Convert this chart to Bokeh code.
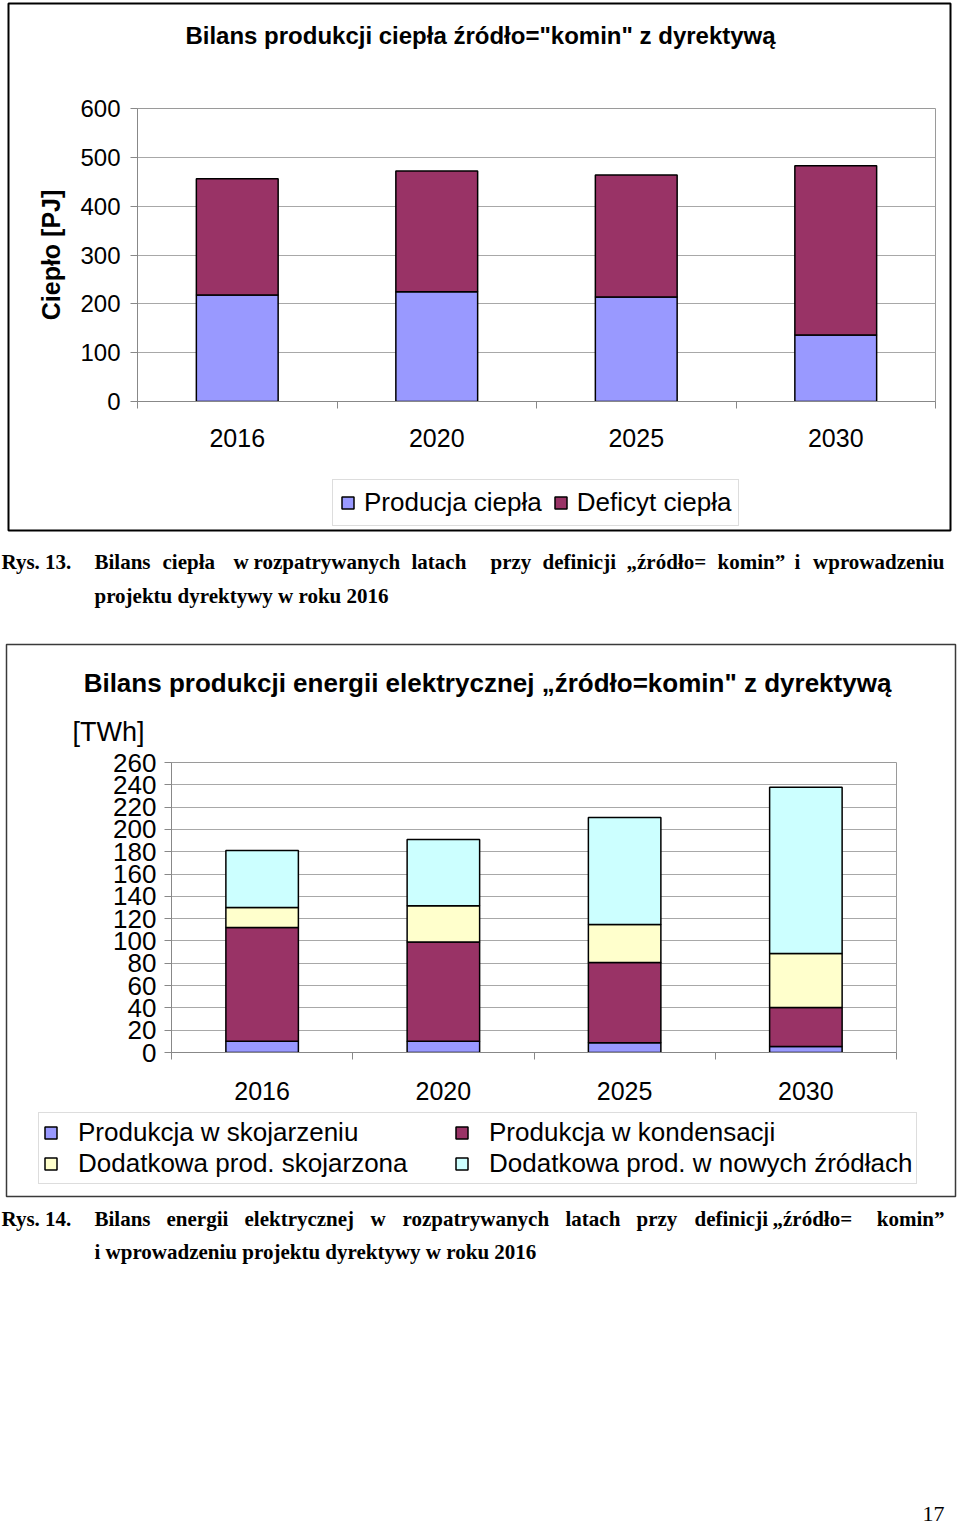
from bokeh.plotting import figure
from bokeh.models import Range1d, FixedTicker, Legend, LegendItem, ColumnDataSource
from bokeh.embed import file_html
from bokeh.resources import INLINE
from bokeh.core.properties import value

# ---------------- data ----------------
years = ["2016", "2020", "2025", "2030"]

heat_names = ["Producja ciepła", "Deficyt ciepła"]
heat_prod = [218, 225, 214, 136]
heat_deficit = [238, 247, 250, 347]
heat_ticks = [0, 100, 200, 300, 400, 500, 600]

el_names = ["Produkcja w skojarzeniu", "Produkcja w kondensacji",
            "Dodatkowa prod. skojarzona", "Dodatkowa prod. w nowych źródłach"]
el_cogen = [10, 10, 8.7, 5.4]
el_cond = [102, 89, 72, 35]
el_extra_cogen = [18, 32.5, 34, 48.4]
el_new = [51, 59.5, 96, 149]
el_ticks = [0, 20, 40, 60, 80, 100, 120, 140, 160, 180, 200, 220, 240, 260]

title1 = 'Bilans produkcji ciepła źródło="komin" z dyrektywą'
ylabel1 = "Ciepło [PJ]"
title2 = 'Bilans produkcji energii elektrycznej „źródło=komin" z dyrektywą'
unit2 = "[TWh]"

cap1_label = "Rys. 13."
cap1_words = ["Bilans", "ciepła", "w", "rozpatrywanych", "latach", "przy",
              "definicji", "„źródło=", "komin”", "i", "wprowadzeniu"]
cap1_line2 = "projektu dyrektywy w roku 2016"
cap2_label = "Rys. 14."
cap2_words = ["Bilans", "energii", "elektrycznej", "w", "rozpatrywanych", "latach",
              "przy", "definicji", "„źródło=", "komin”"]
cap2_line2 = "i wprowadzeniu projektu dyrektywy w roku 2016"
page_no = "17"

heat_colors = ["#9999FF", "#993366"]
el_colors = ["#9999FF", "#993366", "#FFFFCC", "#CCFFFF"]

# layout: positions of justified caption words (pixels)
cap1_x = [94, 162, 233, 253, 411, 490, 542, 626, 717, 794]
cap2_x = [94, 166, 244, 370, 402, 565, 636, 694, 772]

SANS = "Liberation Sans"
SERIF = "Liberation Serif"
AX = "#888888"
GRID = "#A8A8A8"

xs = [i + 0.5 for i in range(len(years))]


def abs_style(left, top):
    return {"position": "absolute", "left": f"{left}px", "top": f"{top}px"}


def bar_fig(left, top, w, h, borders, ymax, ticks, tick_font, x_font,
            tick_standoff, x_standoff):
    p = figure(width=w, height=h, x_range=Range1d(0, len(years)), y_range=Range1d(0, ymax),
               output_backend="svg", toolbar_location=None, title=None,
               min_border_left=borders[0], min_border_right=borders[1],
               min_border_top=borders[2], min_border_bottom=borders[3],
               styles=abs_style(left, top),
               background_fill_color="white", border_fill_color="white",
               outline_line_color="#9A9A9A", outline_line_width=1)
    p.xgrid.visible = False
    p.ygrid.ticker = FixedTicker(ticks=ticks)
    p.ygrid.grid_line_color = GRID
    p.ygrid.grid_line_width = 1

    ya = p.yaxis[0]
    ya.ticker = FixedTicker(ticks=ticks)
    ya.axis_line_color = AX
    ya.major_tick_line_color = AX
    ya.major_tick_out = 7
    ya.major_tick_in = 0
    ya.minor_tick_line_color = None
    ya.major_label_text_font = SANS
    ya.major_label_text_font_size = tick_font
    ya.major_label_text_color = "black"
    ya.major_label_standoff = tick_standoff

    xa = p.xaxis[0]
    xa.ticker = FixedTicker(ticks=xs, minor_ticks=list(range(len(years) + 1)))
    xa.major_label_overrides = dict(zip(xs, years))
    xa.axis_line_color = AX
    xa.major_tick_line_color = None
    xa.major_tick_out = 0
    xa.major_tick_in = 0
    xa.minor_tick_line_color = AX
    xa.minor_tick_out = 7
    xa.minor_tick_in = 0
    xa.major_label_text_font = SANS
    xa.major_label_text_font_size = x_font
    xa.major_label_text_color = "black"
    xa.major_label_standoff = x_standoff
    return p


def blank_fig(left, top, w, h):
    f = figure(width=w, height=h, x_range=Range1d(0, w), y_range=Range1d(h, 0),
               output_backend="svg", toolbar_location=None, title=None,
               x_axis_location=None, y_axis_location=None, min_border=0,
               styles=abs_style(left, top), background_fill_color=None,
               border_fill_color=None, outline_line_color=None)
    f.grid.visible = False
    return f


def legend_fig(left, top, w, h, names, colors, series, **kw):
    # legend panel placed under the chart; its swatches come from hidden copies of the series
    f = blank_fig(left, top, w, h)
    rs = [f.vbar(x=xs, top=s, width=0.4, fill_color=c, line_color="black",
                 line_width=1.5, visible=False)
          for c, s in zip(colors, series)]
    leg = Legend(items=[LegendItem(label=n, renderers=[r]) for n, r in zip(names, rs)],
                 location="top_left", margin=0, glyph_width=15, glyph_height=15,
                 label_text_font=SANS, label_text_font_size="26px", label_text_color="black",
                 border_line_color="#BBBBBB", border_line_width=1,
                 background_fill_color="white", background_fill_alpha=1,
                 inactive_fill_alpha=0, **kw)
    f.add_layout(leg)
    return f


# ---------------- chart 1 ----------------
p1 = bar_fig(10, 60, 938, 411, (127, 13, 48, 70), 600, heat_ticks, "24px", "25px", 10, 20)
src1 = ColumnDataSource(dict(x=xs, prod=heat_prod, deficit=heat_deficit))
p1.vbar_stack(["prod", "deficit"], x="x", width=0.41, source=src1,
              fill_color=heat_colors, line_color="black", line_width=1.5)
ya1 = p1.yaxis[0]
ya1.axis_label = ylabel1
ya1.axis_label_text_font = SANS
ya1.axis_label_text_font_size = "25px"
ya1.axis_label_text_font_style = "bold"
ya1.axis_label_text_color = "black"
ya1.axis_label_standoff = 12

l1 = legend_fig(332, 479, 440, 52, heat_names, heat_colors, [heat_prod, heat_deficit],
                orientation="horizontal", padding=7, spacing=11, label_standoff=9)

# ---------------- chart 2 ----------------
p2 = bar_fig(20, 732, 920, 390, (151, 44, 30, 70), 260, el_ticks, "26px", "25px", 8, 22)
src2 = ColumnDataSource(dict(x=xs, a=el_cogen, b=el_cond, c=el_extra_cogen, d=el_new))
p2.vbar_stack(["a", "b", "c", "d"], x="x", width=0.40, source=src2,
              fill_color=el_colors, line_color="black", line_width=1.5)

l2 = legend_fig(38, 1112, 915, 76, el_names, el_colors,
                [el_cogen, el_cond, el_extra_cogen, el_new],
                orientation="horizontal", ncols=2, padding=4, spacing=0,
                label_standoff=20, label_width=376, label_height=27)

# ---------------- page overlay: frames, titles, captions ----------------
PW, PH = 960, 1524
ov = blank_fig(0, 0, PW, PH)

ov.quad(left=[8, 6], right=[950, 955], top=[3, 644], bottom=[530, 1196],
        fill_color=None, line_color=["#000000", "#3A3A3A"], line_width=[2, 1.5])

TS = dict(text_font=value(SANS), text_baseline="middle", text_color="black")
ov.text(x=[480], y=[35], text=[title1], text_align="center", text_font_style="bold",
        text_font_size="24px", **TS)
ov.text(x=[487], y=[682], text=[title2], text_align="center", text_font_style="bold",
        text_font_size="26px", **TS)
ov.text(x=[72], y=[731], text=[unit2], text_align="left", text_font_size="27px", **TS)

CAP = dict(text_font=value(SERIF), text_font_style="bold", text_font_size="21px",
           text_baseline="middle", text_color="black")
ov.text(x=[1], y=[561], text=[cap1_label], text_align="left", **CAP)
ov.text(x=cap1_x, y=[561] * len(cap1_x), text=cap1_words[:-1], text_align="left", **CAP)
ov.text(x=[944], y=[561], text=cap1_words[-1:], text_align="right", **CAP)
ov.text(x=[94], y=[595], text=[cap1_line2], text_align="left", **CAP)

ov.text(x=[1], y=[1218], text=[cap2_label], text_align="left", **CAP)
ov.text(x=cap2_x, y=[1218] * len(cap2_x), text=cap2_words[:-1], text_align="left", **CAP)
ov.text(x=[944], y=[1218], text=cap2_words[-1:], text_align="right", **CAP)
ov.text(x=[94], y=[1251], text=[cap2_line2], text_align="left", **CAP)

ov.text(x=[944], y=[1513], text=[page_no], text_align="right", text_font=value(SERIF),
        text_font_size="22px", text_baseline="middle", text_color="black")

open("out.html", "w").write(file_html([p1, p2, l1, l2, ov], INLINE))
